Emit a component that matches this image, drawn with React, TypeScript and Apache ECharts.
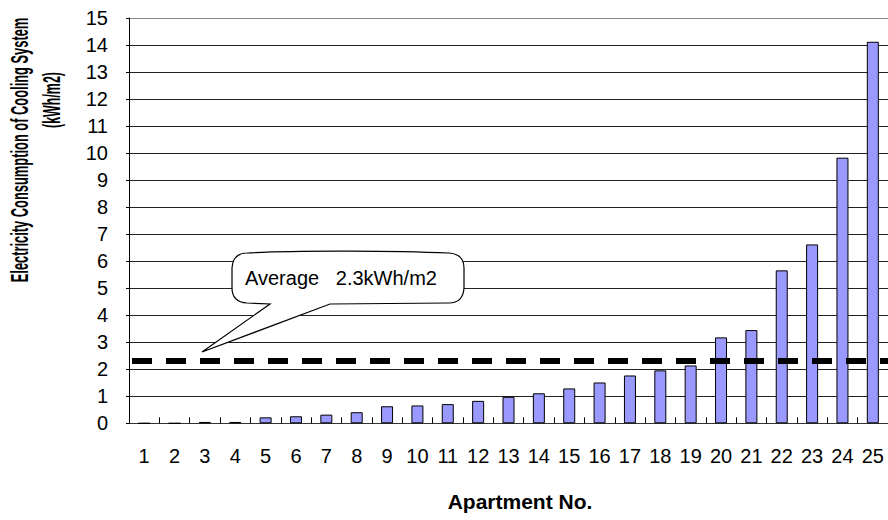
import React, { useEffect, useRef } from "react";
import * as echarts from "echarts";

const categories = ["1","2","3","4","5","6","7","8","9","10","11","12","13","14","15","16","17","18","19","20","21","22","23","24","25"];
const consumption = [0, 0, 0.05, 0.05, 0.22, 0.26, 0.32, 0.41, 0.63, 0.66, 0.71, 0.83, 0.98, 1.11, 1.29, 1.51, 1.77, 1.96, 2.14, 3.18, 3.45, 5.66, 6.62, 9.83, 14.12];
const averageValue = 2.33;
const yTitleLines = ["Electricity Consumption of Cooling System", "(kWh/m2)"];
const xTitle = "Apartment No.";
const calloutText = "Average   2.3kWh/m2";

const FONT = "'Liberation Sans', Arial, sans-serif";
const CALLOUT_D =
  "M 247 253 C 300 250 400 251 449 253 Q 464 254 464 268 L 464 288 Q 463 303 449 303 L 330 304 L 202 352 L 270 304 L 247 303 Q 232 302 232 288 L 232 268 Q 233 253 247 253 Z";

let registered = false;

export default function App() {
  const ref = useRef<HTMLDivElement>(null);
  useEffect(() => {
    if (!ref.current) return;
    if (!registered) {
      echarts.graphic.registerShape("callout", echarts.graphic.extendPath(CALLOUT_D, {}));
      registered = true;
    }
    const chart = echarts.init(ref.current, null, { renderer: "svg" });
    chart.setOption({
      animation: false,
      backgroundColor: "#ffffff",
      grid: { left: 129, right: 0, top: 18, height: 405.3, containLabel: false },
      xAxis: {
        type: "category",
        data: categories,
        axisLine: { show: true, lineStyle: { color: "#333", width: 1 } },
        axisTick: { show: true, inside: true, length: 6, alignWithLabel: false, lineStyle: { color: "#000" } },
        axisLabel: { interval: 0, margin: 23, fontSize: 20, color: "#000", fontFamily: FONT },
        splitLine: { show: false },
      },
      yAxis: {
        type: "value",
        min: 0,
        max: 15,
        interval: 1,
        axisLine: { show: true, lineStyle: { color: "#000", width: 1 } },
        axisTick: { show: true, inside: false, length: 3, lineStyle: { color: "#000" } },
        axisLabel: { margin: 21, fontSize: 20, color: "#000", fontFamily: FONT },
        splitLine: {
          show: true,
          lineStyle: {
            color: ["#222","#222","#222","#222","#222","#222","#222","#222","#222","#222","#222","#222","#222","#222","#222","#888"],
            width: 1,
          },
        },
      },
      series: [
        {
          type: "bar",
          data: consumption,
          barWidth: 12,
          itemStyle: { color: "#9999FF", borderColor: "#000", borderWidth: 1 },
          markLine: {
            silent: true,
            symbol: ["none", "none"],
            label: { show: false },
            lineStyle: { color: "#000", width: 6, type: [20, 14], dashOffset: 31 },
            data: [{ yAxis: averageValue }],
          },
        },
      ],
      graphic: [
        {
          type: "callout",
          x: 0,
          y: 0,
          z: 100,
          style: { fill: "#fff", stroke: "#000", lineWidth: 1.2 },
        },
        {
          type: "text",
          x: 245,
          y: 278,
          z: 101,
          style: { text: calloutText, fontSize: 20, fontFamily: FONT, fill: "#000", align: "left", verticalAlign: "middle" },
        },
        {
          type: "text",
          x: 20,
          y: 150,
          rotation: Math.PI / 2,
          scaleX: 0.56,
          z: 100,
          style: { text: yTitleLines[0], fontSize: 23, fontWeight: "bold", fontFamily: FONT, fill: "#000", align: "center", verticalAlign: "middle" },
        },
        {
          type: "text",
          x: 52,
          y: 100,
          rotation: Math.PI / 2,
          scaleX: 0.54,
          z: 100,
          style: { text: yTitleLines[1], fontSize: 23, fontWeight: "bold", fontFamily: FONT, fill: "#000", align: "center", verticalAlign: "middle" },
        },
        {
          type: "text",
          x: 520,
          y: 501,
          z: 100,
          style: { text: xTitle, fontSize: 21, fontWeight: "bold", fontFamily: FONT, fill: "#000", align: "center", verticalAlign: "middle" },
        },
      ],
    });
    return () => chart.dispose();
  }, []);
  return <div ref={ref} style={{ position: "absolute", left: 0, top: 0, width: 888, height: 520 }} />;
}
